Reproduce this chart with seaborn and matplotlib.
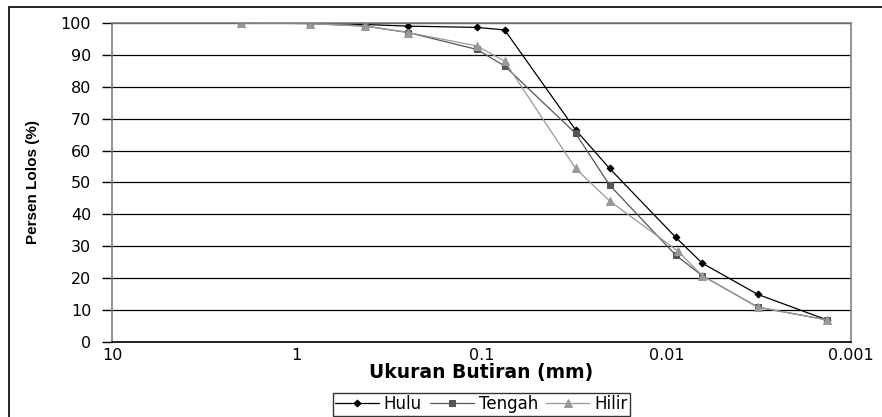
import pandas as pd
import matplotlib.pyplot as plt
import seaborn as sns
from matplotlib.patches import Rectangle
from matplotlib.ticker import LogLocator, FixedLocator, NullFormatter

# grain size (mm) and percent passing
ukuran = [2.0, 0.85, 0.425, 0.25, 0.106, 0.075, 0.031, 0.0203, 0.0089, 0.0064, 0.0032, 0.00135]
ukuran_hilir = [2.0, 0.85, 0.425, 0.25, 0.106, 0.075, 0.031, 0.0203, 0.0087, 0.0064, 0.0032, 0.00135]
hulu = [100, 100, 99.5, 99, 98.6, 97.8, 66.5, 54.4, 32.8, 24.7, 14.9, 6.9]
tengah = [100, 99.8, 99, 97, 91.7, 86.5, 65.4, 49.2, 27.2, 20.8, 10.9, 6.9]
hilir = [100, 99.8, 99, 97, 92.8, 88, 54.4, 44.2, 28.6, 20.8, 10.9, 6.9]
series = ['Hulu', 'Tengah', 'Hilir']
xticks = [10, 1, 0.1, 0.01, 0.001]
xtick_labels = ['10', '1', '0.1', '0.01', '0.001']

df = pd.concat([
    pd.DataFrame({'ukuran': ukuran, 'lolos': hulu, 'lokasi': 'Hulu'}),
    pd.DataFrame({'ukuran': ukuran, 'lolos': tengah, 'lokasi': 'Tengah'}),
    pd.DataFrame({'ukuran': ukuran_hilir, 'lolos': hilir, 'lokasi': 'Hilir'}),
])

sns.set_style('white')
plt.rcParams['font.family'] = ['DejaVu Sans']
plt.rcParams['text.color'] = 'black'
plt.rcParams['axes.labelcolor'] = 'black'
plt.rcParams['xtick.color'] = 'black'
plt.rcParams['ytick.color'] = 'black'

fig = plt.figure(figsize=(8.82, 4.17), dpi=100)
ax = fig.add_axes([0.127, 0.18, 0.838, 0.765])

colors = {'Hulu': '#000000', 'Tengah': '#555555', 'Hilir': '#999999'}
markers = {'Hulu': 'D', 'Tengah': 's', 'Hilir': '^'}
sizes = {'Hulu': 3.5, 'Tengah': 4.5, 'Hilir': 5.5}

for name in series:
    sub = df[df['lokasi'] == name]
    sns.lineplot(data=sub, x='ukuran', y='lolos', ax=ax, color=colors[name],
                 marker=markers[name], markersize=sizes[name], markeredgecolor=colors[name],
                 linewidth=0.9, label=name, estimator=None, sort=True)

ax.set_xscale('log')
ax.set_xlim(10, 0.001)
ax.set_ylim(0, 100)
ax.set_yticks(range(0, 101, 10))
ax.xaxis.set_major_locator(FixedLocator(xticks))
ax.set_xticklabels(xtick_labels)
ax.xaxis.set_minor_locator(LogLocator(base=10, subs=range(2, 10)))
ax.xaxis.set_minor_formatter(NullFormatter())
ax.tick_params(axis='x', which='major', direction='inout', length=7, width=1, labelsize=11.5, pad=1)
ax.tick_params(axis='x', which='minor', direction='in', length=4, width=1)
ax.tick_params(axis='y', which='major', direction='out', length=7, width=1, labelsize=11.5, pad=8, left=True)
ax.grid(axis='y', color='black', linewidth=0.9)
ax.set_axisbelow(True)
for side in ['left', 'right', 'top', 'bottom']:
    ax.spines[side].set_color('#808080')
    ax.spines[side].set_linewidth(1.2)
ax.spines['bottom'].set_color('black')

ax.set_xlabel('Ukuran Butiran (mm)', fontsize=13.5, fontweight='bold', labelpad=0)
ax.yaxis.set_label_coords(-0.098, 0.53)
ax.set_ylabel('Persen Lolos (%)', fontsize=11, fontweight='bold',
              family=['Liberation Sans Narrow', 'Liberation Sans'])

leg = ax.legend(loc='upper center', bbox_to_anchor=(0.5, -0.133), ncol=3, frameon=True,
                fancybox=False, edgecolor='black', fontsize=12, handlelength=2.6,
                handletextpad=0.3, columnspacing=0.5, borderpad=0.15)
leg.get_frame().set_linewidth(1)

fig.patches.append(Rectangle((0.0102, -0.05), 1.0, 1.033, transform=fig.transFigure,
                             fill=False, edgecolor='black', linewidth=1.2, clip_on=False))

plt.savefig('out.png', dpi=100)
